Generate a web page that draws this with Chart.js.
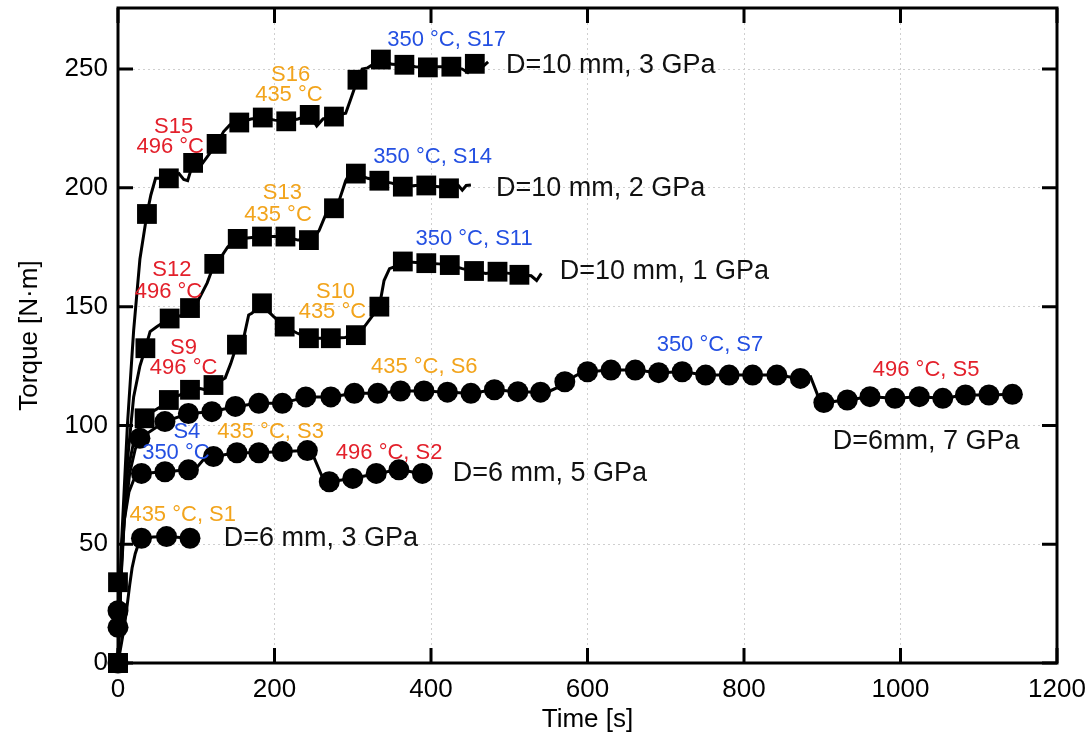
<!DOCTYPE html>
<html>
<head>
<meta charset="utf-8">
<script src="https://cdn.jsdelivr.net/npm/chart.js@4.4.0/dist/chart.umd.min.js"></script>
<style>
  html, body { margin: 0; padding: 0; background: #fff; }
  canvas { display: block; }
</style>
</head>
<body>
<canvas id="torqueChart" width="1086" height="735"></canvas>
<script>
// ── Data (time [s], torque [N·m]) ────────────────────────────────────
// D=10 mm, 3 GPa  (squares)
const sq10mm3GPa = [[0,34],[37,189],[65,204],[96,210.5],[126,218.5],[155,227.5],[185,229.6],[215,228],[245,230.7],[276,230],[306,245.5],[336,254],[366,251.8],[396,250.7],[426,251],[456,252.2]];
const tr10mm3GPa = [[0,0],[4,47],[12,100],[20,140],[28,170],[37,189],[42,197],[48,204],[65,204],[78,206],[84,203.5],[89,203],[96,210.5],[105,209],[114,213],[126,218.5],[135,223.7],[143,226.5],[155,227.5],[170,229],[185,229.6],[200,228.5],[215,228],[230,229],[245,230.7],[254,226],[262,229],[276,230],[285,231],[291,231.4],[297,237],[306,245.5],[312,250],[319,250.5],[336,254],[350,252],[366,251.8],[380,251],[396,250.7],[410,251],[426,251],[440,250],[447,248.5],[456,252.2],[466,251],[473,253]];

// D=10 mm, 2 GPa  (squares)
const sq10mm2GPa = [[0,0],[35,132.5],[66,145],[92,149.4],[123,168],[153,178.5],[184,179.5],[214,179.5],[244,178],[276,191.4],[304,206],[334,203],[364,200.5],[394,201],[423,199.8]];
const tr10mm2GPa = [[0,0],[5,45],[12,85],[20,112],[28,125],[35,132.5],[41,139.5],[50,141.6],[66,145],[84,146.5],[92,149.4],[100,151],[114,160],[123,168],[130,170],[140,175],[146,177],[153,178.5],[184,179.5],[214,179.5],[230,178],[244,178],[250,179],[257,182],[267,190],[276,191.4],[283,195],[291,203],[295,205.4],[304,206],[319,204],[334,203],[350,202],[364,200.5],[380,201],[394,201],[410,200.5],[423,199.8],[435,201],[440,199],[445,201],[451,201.2]];

// D=10 mm, 1 GPa  (squares)
const sq10mm1GPa = [[0,0],[34,103],[65,110.7],[92,115],[122,117],[152,134],[184,151.4],[213,141.6],[244,136.7],[272,136.7],[304,138],[334,150],[364,169],[394,168.3],[424,167.5],[455,165],[485,164.7],[513,163.4]];
const tr10mm1GPa = [[0,0],[5,50],[12,80],[20,93],[28,100],[34,103],[45,106],[55,108],[65,110.7],[80,113],[92,115],[105,115.5],[112,115],[122,117],[137,120],[144,126],[152,134],[161,137.4],[167,146.5],[171,147.2],[184,151.4],[192,148],[199,145.8],[213,141.6],[228,139],[244,136.7],[272,136.7],[290,137],[304,138],[315,141.6],[334,150],[340,161],[347,166],[353,166.7],[364,169],[394,168.3],[410,168],[424,167.5],[440,166],[455,165],[470,164],[485,164.7],[500,164],[513,163.4],[528,163],[535,161],[541,164]];

// D=6 mm, 7 GPa  (circles)
const ci6mm7GPa = [[0,22],[28,94.6],[60,101.6],[90,105],[120,105.8],[150,108],[180,109.3],[210,109.3],[240,112],[272,112],[302,113.5],[332,113.5],[361,114.5],[391,114.5],[421,114],[451,113.5],[481,115],[511,114.2],[540,114],[571,118.4],[600,122.6],[630,123.3],[661,123.3],[691,122.2],[721,122.6],[751,121.2],[781,121.2],[811,121.2],[842,121.2],[872,119.8],[902,109.6],[932,110.7],[961,112.1],[993,111.4],[1024,112.1],[1054,111.4],[1083,112.8],[1113,112.8],[1143,113.1]];
const tr6mm7GPa = [[0,0],[3,30],[8,60],[15,80],[22,90],[28,94.6],[60,101.6],[90,105],[120,105.8],[150,108],[180,109.3],[210,109.3],[240,112],[272,112],[302,113.5],[332,113.5],[361,114.5],[391,114.5],[421,114],[451,113.5],[481,115],[511,114.2],[540,114],[552,114.5],[562,116],[571,118.4],[588,121.5],[600,122.6],[630,123.3],[661,123.3],[691,122.2],[721,122.6],[751,121.2],[781,121.2],[811,121.2],[842,121.2],[872,119.8],[885,120.5],[895,112],[902,109.6],[932,110.7],[961,112.1],[993,111.4],[1024,112.1],[1054,111.4],[1083,112.8],[1113,112.8],[1143,113.1]];

// D=6 mm, 5 GPa  (circles)
const ci6mm5GPa = [[0,15],[30,79.8],[60,80.5],[90,81.3],[122,86.9],[152,88.5],[180,88.5],[210,89],[242,89.4],[270,76.3],[300,77.7],[330,79.8],[359,81.3],[389,79.8]];
const tr6mm5GPa = [[0,0],[4,40],[8,60],[14,72],[20,77],[30,79.8],[60,80.5],[90,81.3],[100,82],[109,85.5],[122,86.9],[152,88.5],[180,88.5],[210,89],[242,89.4],[250,86.9],[261,78.4],[270,76.3],[300,77.7],[330,79.8],[359,81.3],[389,79.8]];

// D=6 mm, 3 GPa  (circles)
const ci6mm3GPa = [[0,0],[30,52.5],[62,53.2],[92,52.5]];
const tr6mm3GPa = [[0,0],[8,15],[12,25],[15,33],[18,40],[22,46],[26,50],[30,52.5],[45,53],[62,53.2],[80,52.8],[92,52.5]];

// Text notes: [text, time, torque, colour, align]
const notes = [
  ['350 °C, S17', 420, 262.2, 'blue', 'center'],
  ['D=10 mm, 3 GPa', 496, 251.3, 'black', 'left'],
  ['S16', 220.5, 247.5, 'orange', 'center'],
  ['435 °C', 218.4, 239, 'orange', 'center'],
  ['S15', 71, 225.8, 'red', 'center'],
  ['496 °C', 66.7, 217.3, 'red', 'center'],
  ['350 °C, S14', 402, 213, 'blue', 'center'],
  ['D=10 mm, 2 GPa', 483, 199.8, 'black', 'left'],
  ['S13', 210, 197.7, 'orange', 'center'],
  ['435 °C', 204.5, 188.6, 'orange', 'center'],
  ['S12', 68.8, 165.4, 'red', 'center'],
  ['496 °C', 64.5, 156.3, 'red', 'center'],
  ['350 °C, S11', 455, 178.7, 'blue', 'center'],
  ['D=10 mm, 1 GPa', 564.5, 164.7, 'black', 'left'],
  ['S10', 278, 156.3, 'orange', 'center'],
  ['435 °C', 274, 147.9, 'orange', 'center'],
  ['S9', 83.8, 132.5, 'red', 'center'],
  ['496 °C', 83.8, 124, 'red', 'center'],
  ['435 °C, S6', 391.4, 124.7, 'orange', 'center'],
  ['350 °C, S7', 756.5, 133.8, 'blue', 'center'],
  ['496 °C, S5', 1032.7, 123.3, 'red', 'center'],
  ['D=6mm, 7 GPa', 1032.7, 93.1, 'black', 'center'],
  ['S4', 88, 97.4, 'blue', 'center'],
  ['350 °C', 74, 88.3, 'blue', 'center'],
  ['435 °C, S3', 195, 97.4, 'orange', 'center'],
  ['496 °C, S2', 346.5, 88.3, 'red', 'center'],
  ['D=6 mm, 5 GPa', 427.8, 79.8, 'black', 'left'],
  ['435 °C, S1', 82.7, 62.3, 'orange', 'center'],
  ['D=6 mm, 3 GPa', 135, 52.5, 'black', 'left'],
];

// ── Style ────────────────────────────────────────────────────────────
const FONT = "'Liberation Sans', Arial, Helvetica, sans-serif";
const COLORS = { blue: '#2450e2', orange: '#f2a41c', red: '#e3202b', black: '#111' };

const toXY = arr => arr.map(([x, y]) => ({ x, y }));

function traceSet(arr) {
  return {
    data: toXY(arr), showLine: true, borderColor: '#000', borderWidth: 3,
    pointRadius: 0, tension: 0, fill: false, clip: false, order: 2,
  };
}
function markerSet(arr, style) {
  return {
    data: toXY(arr), showLine: false, pointStyle: style,
    pointRadius: style === 'rect' ? 14 : 10.5,
    backgroundColor: '#000', borderColor: '#000', borderWidth: 0,
    clip: false, order: 1,
  };
}

// frame + inward ticks on all four sides
const framePlugin = {
  id: 'frame',
  beforeDatasetsDraw(chart) {
    const { ctx, chartArea: a, scales: { x, y } } = chart;
    const L = 15;
    ctx.save();
    ctx.strokeStyle = '#000';
    ctx.lineWidth = 3;
    ctx.strokeRect(a.left, a.top, a.right - a.left, a.bottom - a.top);
    ctx.beginPath();
    x.ticks.forEach(t => {
      const px = x.getPixelForValue(t.value);
      ctx.moveTo(px, a.bottom); ctx.lineTo(px, a.bottom - L);
      ctx.moveTo(px, a.top);    ctx.lineTo(px, a.top + L);
    });
    y.ticks.forEach(t => {
      const py = y.getPixelForValue(t.value);
      ctx.moveTo(a.left, py);  ctx.lineTo(a.left + L, py);
      ctx.moveTo(a.right, py); ctx.lineTo(a.right - L, py);
    });
    ctx.stroke();
    ctx.restore();
  }
};

const notesPlugin = {
  id: 'notes',
  afterDatasetsDraw(chart) {
    const { ctx, scales: { x, y } } = chart;
    ctx.save();
    ctx.textBaseline = 'middle';
    notes.forEach(([text, t, T, col, align]) => {
      ctx.font = (col === 'black' ? 27 : 22) + 'px ' + FONT;
      ctx.fillStyle = COLORS[col];
      ctx.textAlign = align;
      ctx.fillText(text, x.getPixelForValue(t), y.getPixelForValue(T));
    });
    ctx.restore();
  }
};

new Chart(document.getElementById('torqueChart'), {
  type: 'scatter',
  data: {
    datasets: [
      markerSet(sq10mm3GPa, 'rect'), markerSet(sq10mm2GPa, 'rect'), markerSet(sq10mm1GPa, 'rect'),
      markerSet(ci6mm7GPa, 'circle'), markerSet(ci6mm5GPa, 'circle'), markerSet(ci6mm3GPa, 'circle'),
      traceSet(tr10mm3GPa), traceSet(tr10mm2GPa), traceSet(tr10mm1GPa),
      traceSet(tr6mm7GPa), traceSet(tr6mm5GPa), traceSet(tr6mm3GPa),
    ]
  },
  options: {
    responsive: false,
    animation: false,
    devicePixelRatio: 1,
    layout: { autoPadding: false, padding: { top: 8, right: 29, bottom: 0, left: 0 } },
    plugins: { legend: { display: false }, tooltip: { enabled: false } },
    scales: {
      x: {
        type: 'linear', min: 0, max: 1200,
        ticks: { stepSize: 200, includeBounds: false, maxRotation: 0, padding: 11, color: '#000',
                 font: { family: FONT, size: 26 }, callback: v => String(v) },
        grid: { color: '#cfcfcf', lineWidth: 1, drawTicks: false },
        border: { display: false, dash: [2, 3] },
        title: { display: true, text: 'Time [s]', color: '#000', font: { family: FONT, size: 26 }, padding: 0 },
        afterFit: s => { s.height = 72; s.paddingLeft = 0; s.paddingRight = 0; },
      },
      y: {
        type: 'linear', min: 0, max: 275.7,
        ticks: { stepSize: 50, includeBounds: false, padding: 10, color: '#000',
                 font: { family: FONT, size: 26 }, callback: v => String(v) },
        grid: { color: '#cfcfcf', lineWidth: 1, drawTicks: false },
        border: { display: false, dash: [2, 3] },
        title: { display: true, text: 'Torque [N·m]', color: '#000', font: { family: FONT, size: 26 }, padding: { top: 14, bottom: 0 } },
        afterFit: s => { s.width = 118; s.paddingTop = 0; s.paddingBottom = 0; },
      }
    }
  },
  plugins: [framePlugin, notesPlugin]
});
</script>
</body>
</html>
